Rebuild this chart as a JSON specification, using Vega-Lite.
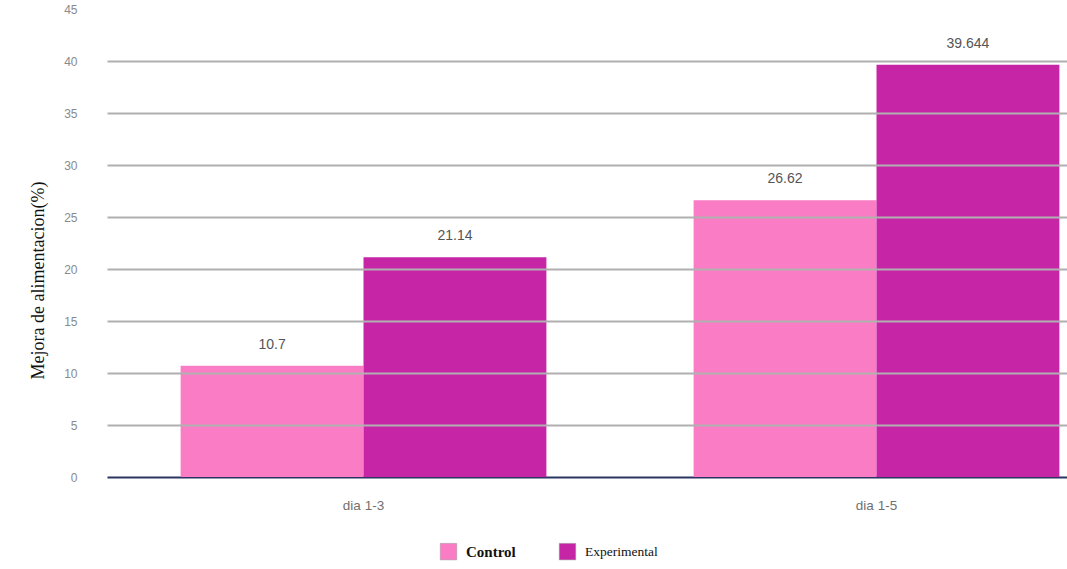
{
  "$schema": "https://vega.github.io/schema/vega-lite/v6.json",
  "autosize": "none",
  "width": 960,
  "height": 468,
  "padding": {"left": 107, "top": 9, "right": 0, "bottom": 92},
  "background": "white",
  "config": {"view": {"stroke": null}},
  "data": {
    "values": [
      {"dia": "dia 1-3", "grupo": "Control", "valor": 10.7, "etiqueta": "10.7"},
      {"dia": "dia 1-3", "grupo": "Experimental", "valor": 21.14, "etiqueta": "21.14"},
      {"dia": "dia 1-5", "grupo": "Control", "valor": 26.62, "etiqueta": "26.62"},
      {"dia": "dia 1-5", "grupo": "Experimental", "valor": 39.644, "etiqueta": "39.644"}
    ]
  },
  "encoding": {
    "x": {
      "field": "dia", "type": "nominal",
      "scale": {"range": [0, 1026], "paddingInner": 0.287, "paddingOuter": 0.1435},
      "axis": {
        "title": null, "labelAngle": 0, "ticks": false,
        "domainColor": "#2b3563", "domainWidth": 2,
        "labelFont": "Liberation Sans", "labelFontSize": 13.5, "labelColor": "#707070",
        "labelPadding": 21
      }
    },
    "xOffset": {"field": "grupo", "type": "nominal", "scale": {"paddingInner": 0, "paddingOuter": 0}},
    "y": {
      "field": "valor", "type": "quantitative",
      "scale": {"domain": [0, 45], "nice": false},
      "axis": {
        "values": [0, 5, 10, 15, 20, 25, 30, 35, 40, 45],
        "title": "Mejora de alimentacion(%)",
        "titleFont": "Liberation Serif", "titleFontSize": 18, "titleFontWeight": "normal",
        "titleColor": "#111111", "titleX": -60, "titleY": 271, "titleAngle": -90,
        "titleAlign": "center", "titleBaseline": "bottom",
        "domain": false, "ticks": false,
        "labelFont": "Liberation Sans", "labelFontSize": 12, "labelColor": "#8a8a8a",
        "labelPadding": 30,
        "grid": true,
        "gridColor": {"condition": {"test": "datum.value == 45 || datum.value == 0", "value": "transparent"}, "value": "#b0b0b0"},
        "gridWidth": 2.2,
        "zindex": 1
      }
    }
  },
  "layer": [
    {
      "mark": {"type": "bar"},
      "encoding": {
        "color": {
          "field": "grupo", "type": "nominal",
          "scale": {"domain": ["Control", "Experimental"], "range": ["#fa7cc5", "#c626a6"]},
          "legend": {
            "title": null, "orient": "none", "direction": "horizontal",
            "legendX": 333, "legendY": 534,
            "symbolType": "square", "symbolSize": 272, "symbolStrokeColor": "#999999", "symbolStrokeWidth": 0.5,
            "labelFont": "Liberation Serif", "labelFontSize": 13.5, "labelColor": "#111111",
            "columnPadding": 42, "labelOffset": 9,
            "encode": {
              "labels": {
                "update": {
                  "fontWeight": {"signal": "datum.value == 'Control' ? 'bold' : 'normal'"},
                  "fontSize": {"signal": "datum.value == 'Control' ? 15 : 13.5"}
                }
              }
            }
          }
        }
      }
    },
    {
      "mark": {"type": "text", "dy": -21, "font": "Liberation Sans", "fontSize": 14, "color": "#555555"},
      "encoding": {"text": {"field": "etiqueta", "type": "nominal"}}
    }
  ]
}
